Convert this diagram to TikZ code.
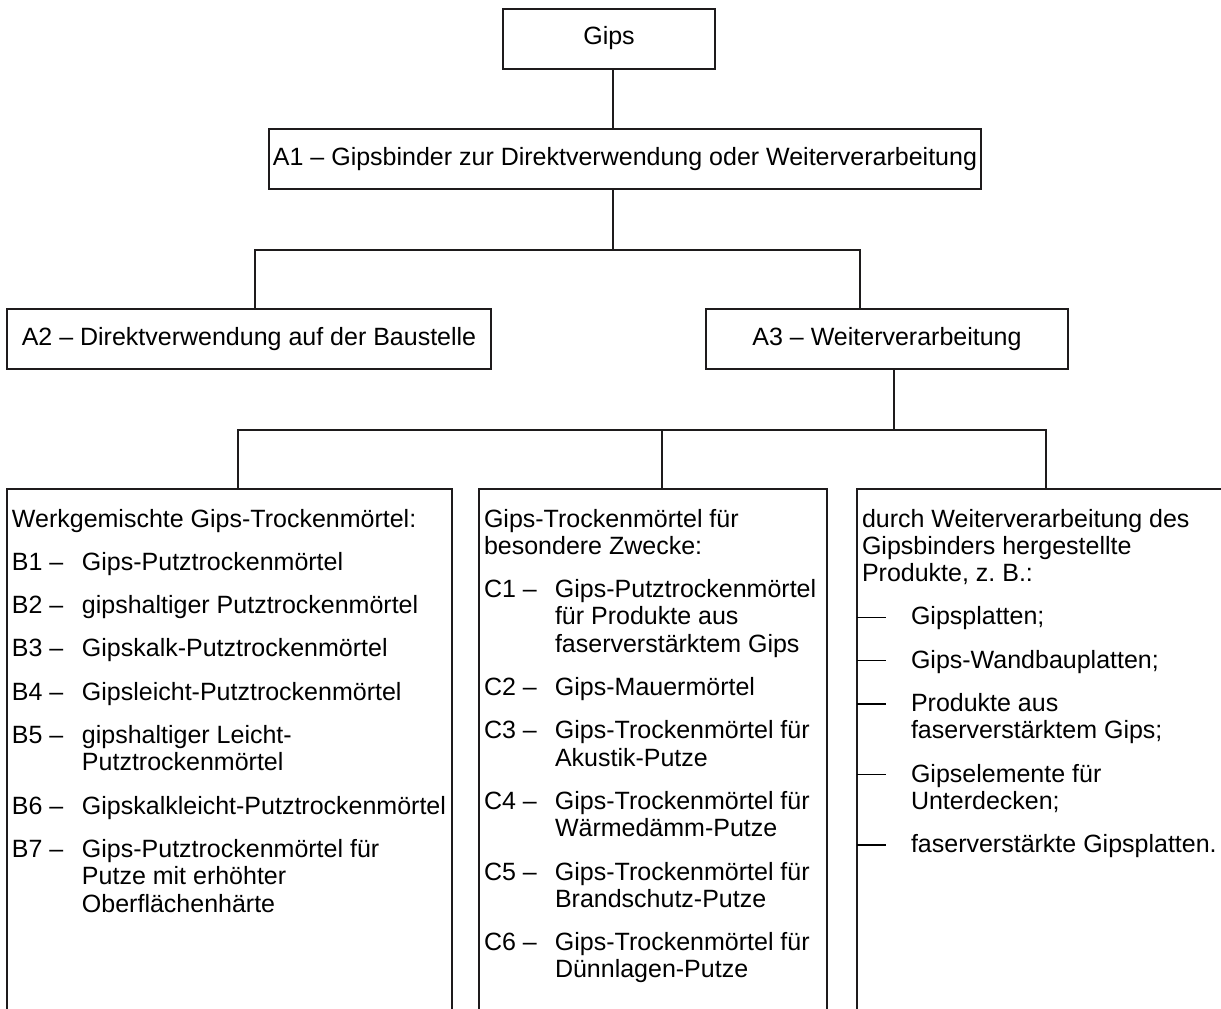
\documentclass[tikz,border=0pt]{standalone}
\usepackage{fontspec}
\setmainfont{Liberation Sans}
\usepackage{xcolor}
\usetikzlibrary{positioning}
\definecolor{inkgray}{RGB}{30,27,28}
\newlength{\entrywd}
\newcommand{\listfont}{\fontsize{25}{27.3}\selectfont\raggedright
  \hyphenpenalty=10000\exhyphenpenalty=10000\parskip=16pt\relax}
\newcommand{\entry}[2]{\par\hangindent=\entrywd\hangafter=1\noindent\makebox[\entrywd][l]{#1}#2}
\newcommand{\proddash}{\hspace*{-5pt}\rule[7pt]{29pt}{1.3pt}}

\begin{document}
\begin{tikzpicture}[x=1pt, y=-1pt,
        head/.style={rectangle,draw=inkgray,line width=2pt,text=black,inner sep=0pt,
          minimum height=60pt,font=\fontsize{25}{27.3}\selectfont},
        listbox/.style={rectangle,draw=inkgray,line width=2pt,text=black,
          inner xsep=5pt,inner ysep=0pt,anchor=north},
        link/.style={draw=inkgray,line width=1.7pt}]
        \useasboundingbox (0,0) rectangle (1221,1009);
        \clip (0,0) rectangle (1221,1009);
        \node[head,minimum width=212pt] (gips) at (609,38.5) {Gips};
        \node[head,minimum width=712pt] (a1) at (625,159) {A1 – Gipsbinder zur Direktverwendung oder Weiterverarbeitung};
        \node[head,minimum width=484pt] (a2) at (249,339) {A2 – Direktverwendung auf der Baustelle};
        \node[head,minimum width=362pt] (a3) at (887,339) {A3 – Weiterverarbeitung};
        \node[listbox] (werk) at (229.5,488) {\parbox[c][545pt][t]{435pt}{\listfont
          \setlength{\entrywd}{70pt}\rule{0pt}{38pt}Werkgemischte Gips-Trockenmörtel:
          \entry{B1 –}{Gips-Putztrockenmörtel}
          \entry{B2 –}{gipshaltiger Putztrockenmörtel}
          \entry{B3 –}{Gipskalk-Putztrockenmörtel}
          \entry{B4 –}{Gipsleicht-Putztrockenmörtel}
          \entry{B5 –}{gipshaltiger Leicht-\newline Putztrockenmörtel}
          \entry{B6 –}{Gipskalkleicht-Putztrockenmörtel}
          \entry{B7 –}{Gips-Putztrockenmörtel für\newline Putze mit erhöhter\newline Oberflächenhärte}}};
        \node[listbox] (zweck) at (653,488) {\parbox[c][545pt][t]{338pt}{\listfont
          \setlength{\entrywd}{71pt}\rule{0pt}{38pt}Gips-Trockenmörtel für\newline besondere Zwecke:
          \entry{C1 –}{Gips-Putztrockenmörtel\newline für Produkte aus\newline faserverstärktem Gips}
          \entry{C2 –}{Gips-Mauermörtel}
          \entry{C3 –}{Gips-Trockenmörtel für\newline Akustik-Putze}
          \entry{C4 –}{Gips-Trockenmörtel für\newline Wärmedämm-Putze}
          \entry{C5 –}{Gips-Trockenmörtel für\newline Brandschutz-Putze}
          \entry{C6 –}{Gips-Trockenmörtel für\newline Dünnlagen-Putze}}};
        \node[listbox] (prod) at (1048.5,488) {\parbox[c][545pt][t]{373pt}{\listfont
          \setlength{\entrywd}{49pt}\rule{0pt}{38pt}durch Weiterverarbeitung des\newline Gipsbinders hergestellte\newline Produkte, z.~B.:
          \entry{\proddash}{Gipsplatten;}
          \entry{\proddash}{Gips-Wandbauplatten;}
          \entry{\proddash}{Produkte aus\newline faserverstärktem Gips;}
          \entry{\proddash}{Gipselemente für\newline Unterdecken;}
          \entry{\proddash}{faserverstärkte Gipsplatten.}}};
        \draw[link] ([xshift=4pt]gips.south) -- ([xshift=4pt]gips.south |- a1.north);
        \draw[link] ([xshift=-12pt]a1.south) -- ++(0,60) coordinate (j1);
        \draw[link] ([xshift=6pt]a2.north) |- (j1) -| ([xshift=-27pt]a3.north);
        \draw[link] ([xshift=7pt]a3.south) -- ++(0,60) coordinate (j2);
        \draw[link] ([xshift=8.5pt]werk.north) |- (j2) -| ([xshift=-2.5pt]prod.north);
        \draw[link] ([xshift=9pt]zweck.north) -- ([xshift=9pt]zweck.north |- j2);
      \end{tikzpicture}
\end{document}
